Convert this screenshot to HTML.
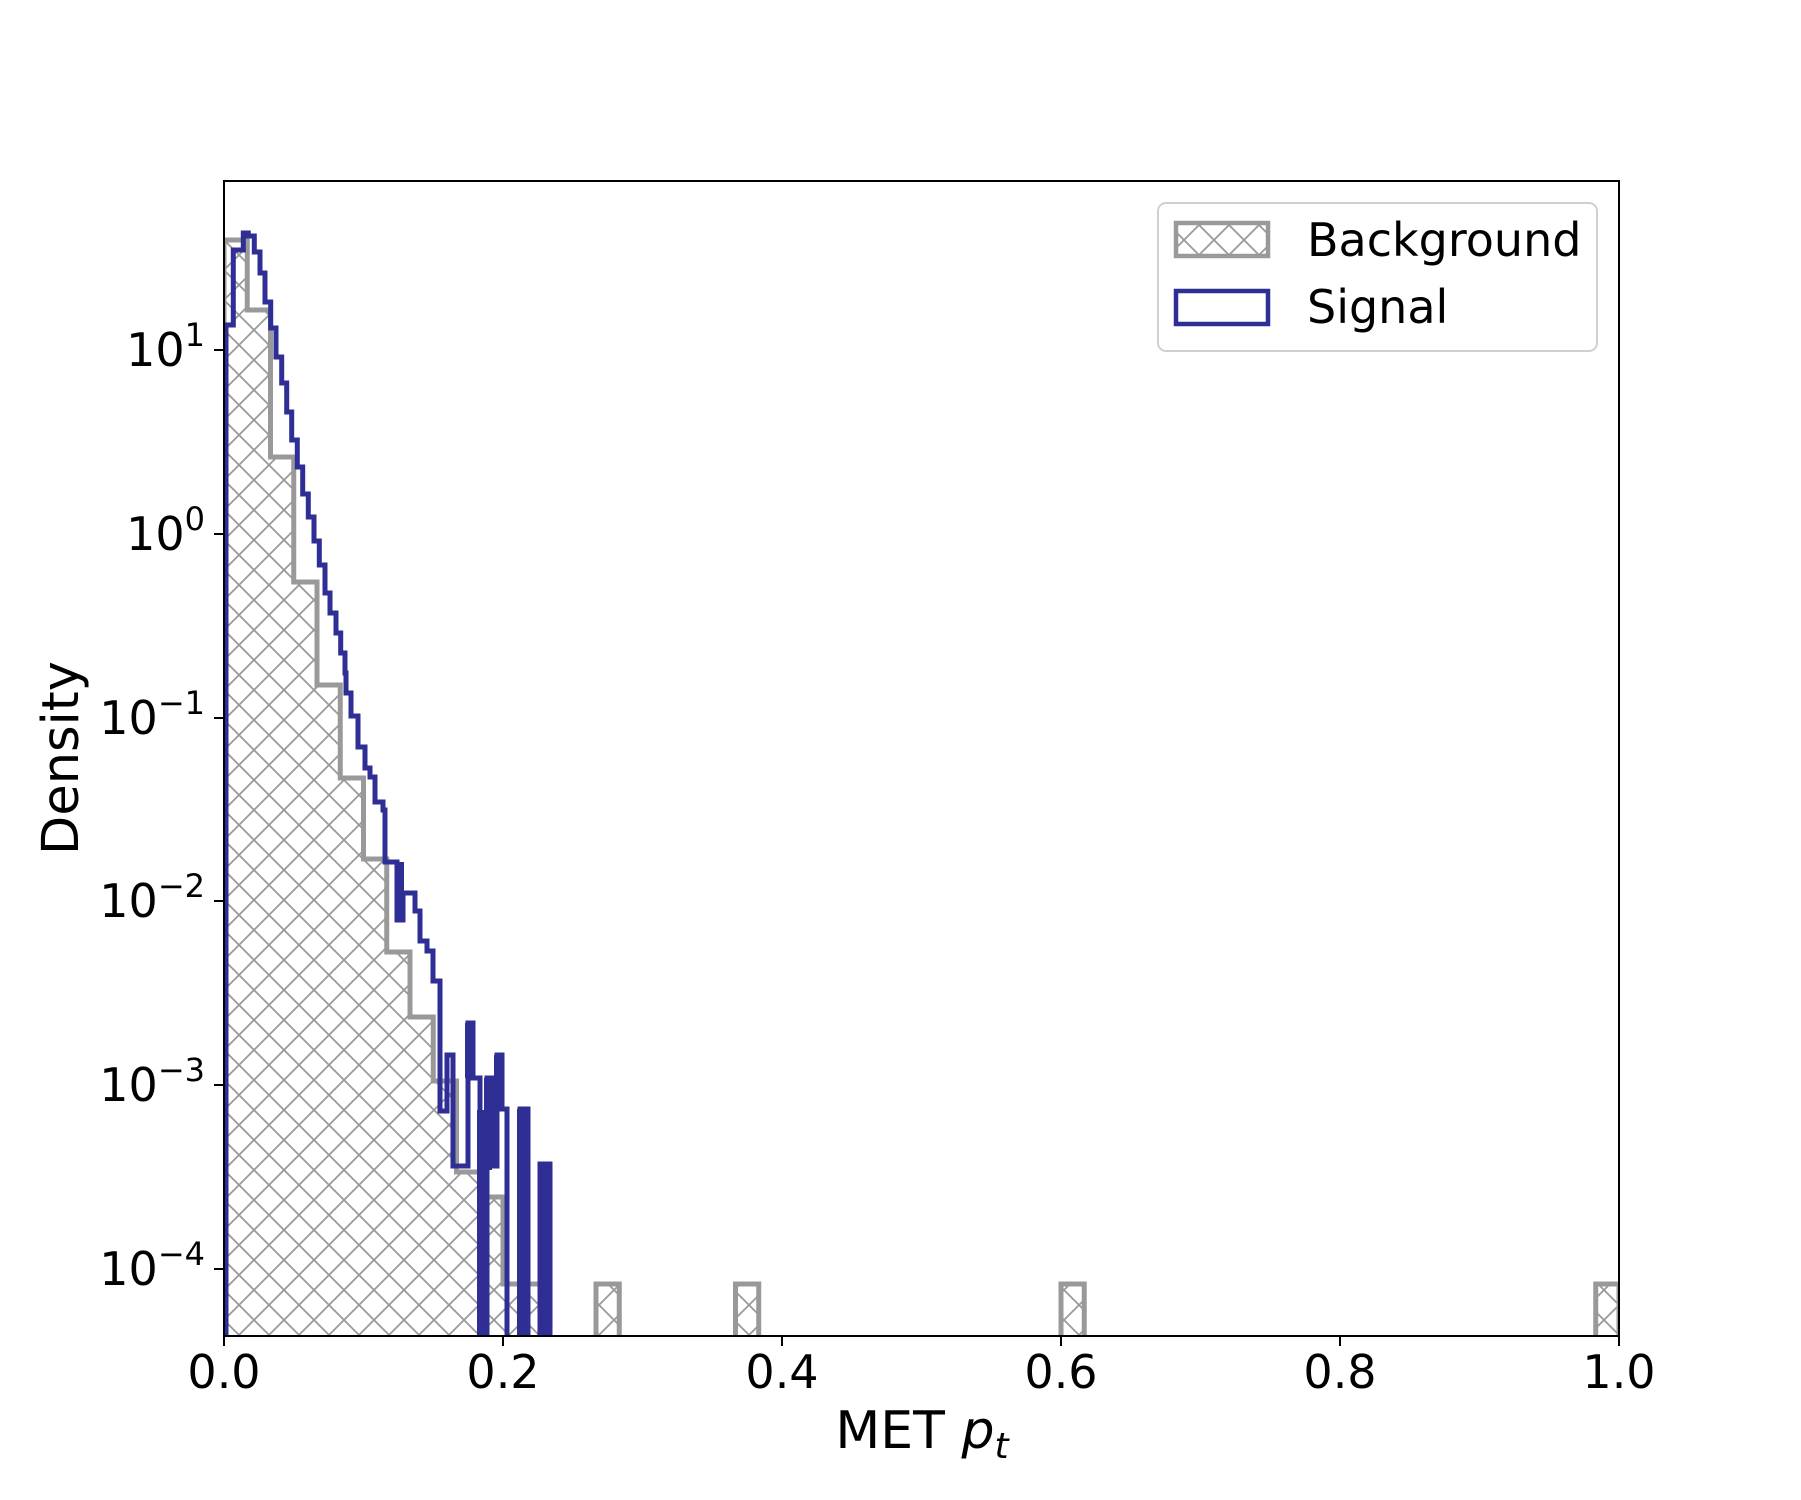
<!DOCTYPE html>
<html><head><meta charset="utf-8"><style>
html,body{margin:0;padding:0;background:#fff;}
svg{display:block;font-family:"DejaVu Sans","Liberation Sans",sans-serif;}
</style></head><body>
<svg width="1801" height="1500" viewBox="0 0 1801 1500" xmlns="http://www.w3.org/2000/svg">
<defs>
<pattern id="h" patternUnits="userSpaceOnUse" width="30" height="30" x="224" y="0">
<path d="M0,0 L30,30 M30,0 L0,30" stroke="#999" stroke-width="1.8" fill="none"/>
</pattern>
<clipPath id="ax"><rect x="224" y="181" width="1395" height="1155"/></clipPath>
</defs>
<rect width="1801" height="1500" fill="#fff"/>
<g clip-path="url(#ax)">
<g fill="url(#h)" stroke="#999" stroke-width="5" stroke-linejoin="miter">
<path d="M224,1338 V240 H247.25 V310 H270.5 V457 H293.75 V582 H317 V685 H340.25 V778 H363.5 V859 H386.75 V952 H410 V1017 H433.25 V1081 H456.5 V1172 H479.75 V1197 H503 V1284 H549.5 V1338"/>
<path d="M596,1338 V1284 H619.25 V1338"/>
<path d="M735.5,1338 V1284 H758.75 V1338"/>
<path d="M1061,1338 V1284 H1084.25 V1338"/>
<path d="M1595.75,1338 V1284 H1619 V1338"/>
</g>
<path fill="none" stroke="#2e2e94" stroke-width="5" stroke-linejoin="miter" d="M226,1338 V325 H233.3 V250 H243.3 V233 H248.3 V236 H254.3 V252 H260 V273 H265 V302 H270.7 V328 H276 V357 H281.7 V383 H286.7 V412 H291.7 V440 H297.3 V467 H302.7 V494 H308.3 V517 H314 V541 H319.3 V565 H325 V593 H330 V613 H336 V633 H340.7 V653 H345 V673 H346 V693 H351 V716 H358 V747 H365 V768 H370 V777 H375 V802 H383 V810 H385 V862 H397 V920 H403 V893 H415 V911 H420 V941 H427 V951 H433 V981 H440 V1111 H447 V1055 H453 V1166 H468 V1023 H473 V1078 H480 V1338 H487 V1078 H492 V1166 H497 V1055 H502 V1109 H507 V1338 H520 V1109 H528 V1338 H540 V1164 H550 V1338"/>
<g fill="#2e2e94">
<rect x="397" y="862" width="7" height="58"/>
<rect x="465" y="1023" width="8" height="55"/>
<rect x="477" y="1110" width="9" height="228"/>
<rect x="484" y="1078" width="8" height="92"/>
<rect x="494" y="1055" width="8" height="54"/>
<rect x="517" y="1109" width="9" height="229"/>
<rect x="538" y="1164" width="10" height="174"/>
</g>
</g>
<rect x="224" y="181" width="1395" height="1155" fill="none" stroke="#000" stroke-width="2"/>
<g stroke="#000" stroke-width="2">
<line x1="224" y1="1336" x2="224" y2="1346"/><line x1="503" y1="1336" x2="503" y2="1346"/><line x1="782" y1="1336" x2="782" y2="1346"/><line x1="1061" y1="1336" x2="1061" y2="1346"/><line x1="1340" y1="1336" x2="1340" y2="1346"/><line x1="1619" y1="1336" x2="1619" y2="1346"/>
<line x1="214" y1="350" x2="224" y2="350"/><line x1="214" y1="534" x2="224" y2="534"/><line x1="214" y1="718" x2="224" y2="718"/><line x1="214" y1="901" x2="224" y2="901"/><line x1="214" y1="1085" x2="224" y2="1085"/><line x1="214" y1="1269" x2="224" y2="1269"/>
</g>
<g stroke="#000" stroke-width="1.5" id="minor">
</g>
<g font-size="46" fill="#000" text-anchor="middle">
<text x="224" y="1388">0.0</text><text x="503" y="1388">0.2</text><text x="782" y="1388">0.4</text><text x="1061" y="1388">0.6</text><text x="1340" y="1388">0.8</text><text x="1619" y="1388">1.0</text>
</g>
<g font-size="46" fill="#000" text-anchor="end">
<text x="205" y="366">10<tspan font-size="32" dy="-20">1</tspan></text>
<text x="205" y="550">10<tspan font-size="32" dy="-20">0</tspan></text>
<text x="205" y="734">10<tspan font-size="32" dy="-20">−1</tspan></text>
<text x="205" y="917">10<tspan font-size="32" dy="-20">−2</tspan></text>
<text x="205" y="1101">10<tspan font-size="32" dy="-20">−3</tspan></text>
<text x="205" y="1285">10<tspan font-size="32" dy="-20">−4</tspan></text>
</g>
<text x="922" y="1448" font-size="52" text-anchor="middle">MET <tspan font-style="italic">p</tspan><tspan font-style="italic" font-size="36" dy="10">t</tspan></text>
<text transform="translate(78,758) rotate(-90)" font-size="51" text-anchor="middle">Density</text>
<rect x="1158" y="203" width="439" height="148" rx="8" fill="#fff" fill-opacity="0.8" stroke="#d0d0d0" stroke-width="2"/>
<rect x="1176" y="223" width="92" height="33" fill="url(#h)" stroke="#999" stroke-width="4.5"/>
<rect x="1176" y="291" width="92" height="33" fill="none" stroke="#2e2e94" stroke-width="4.5"/>
<text x="1307" y="256" font-size="46">Background</text>
<text x="1307" y="323" font-size="46">Signal</text>
<script>
var g=document.getElementById('minor'),s='';
var d=183.8;
for(var e=-5;e<=1;e++){for(var m=2;m<=9;m++){var y=350+(1-e-Math.log10(m))*d;if(y>181&&y<1336)s+='<line x1="218" y1="'+y+'" x2="224" y2="'+y+'"/>';}}
g.innerHTML=s;
</script>
</svg>
</body></html>
